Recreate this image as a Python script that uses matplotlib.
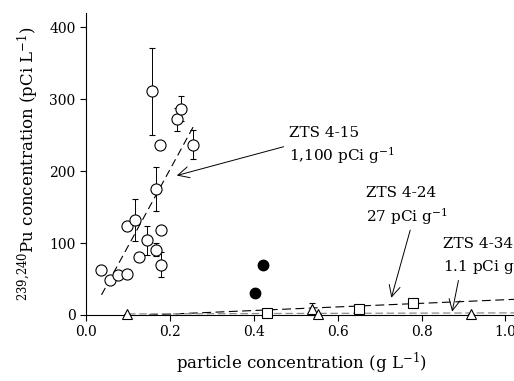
import matplotlib
matplotlib.use("Agg")
import matplotlib.pyplot as plt
import numpy as np

plt.rcParams["font.family"] = ["DejaVu Serif"]
plt.rcParams["mathtext.fontset"] = "dejavuserif"

# ZTS 4-15 (open circles) with error bars
zts415_x = [0.036, 0.057, 0.077, 0.097, 0.097, 0.117, 0.126, 0.146, 0.166, 0.179,
            0.179, 0.166, 0.158, 0.177, 0.216, 0.227, 0.256]
zts415_y = [63, 48, 56, 57, 124, 132, 80, 104, 91, 118, 70, 175, 311, 236, 272, 287, 237]
zts415_err = [4, 0, 4, 0, 4, 29, 4, 20, 9, 0, 17, 31, 61, 0, 16, 17, 20]
fit415_x = [0.037, 0.256]
fit415_y = [28, 262]

# ZTS 4-24 (open squares)
zts424_x = [0.432, 0.652, 0.779]
zts424_y = [3, 8, 16]
fit424_x = [0.15, 1.03]
fit424_y = [0, 22]

# ZTS 4-34 (open triangles)
zts434_x = [0.097, 0.540, 0.552, 0.918]
zts434_y = [2, 8, 1, 1]
zts434_err = [0, 8, 0, 0]
fit434_x = [0.1, 1.03]
fit434_y = [1.5, 3]

# filled circles
filled_x = [0.404, 0.423]
filled_y = [30, 70]

fig = plt.figure(figsize=(5.14, 3.81), dpi=100)
ax = fig.add_axes([86 / 514, 66 / 381, 432 / 514, 302 / 381])

ax.plot(fit415_x, fit415_y, color="black", lw=0.8, dashes=(7, 4))
ax.plot(fit424_x, fit424_y, color="black", lw=0.8, dashes=(8, 4))
ax.plot(fit434_x, fit434_y, color="0.55", lw=0.9, dashes=(6, 3))

ax.errorbar(zts415_x, zts415_y, yerr=zts415_err, fmt="o", ms=8, mfc="white",
            mec="black", mew=0.8, ecolor="black", elinewidth=0.7, capsize=2.5,
            capthick=0.7, zorder=3)
ax.plot(zts424_x, zts424_y, "s", ms=6.5, mfc="white", mec="black", mew=0.8,
        zorder=3, clip_on=False)
ax.errorbar(zts434_x, zts434_y, yerr=zts434_err, fmt="^", ms=7.5, mfc="white",
            mec="black", mew=0.8, ecolor="black", elinewidth=0.7, capsize=2.5,
            capthick=0.7, zorder=3, clip_on=False)
ax.plot(filled_x, filled_y, "o", ms=7.5, color="black", zorder=3)

# labels + arrows
ax.text(0.484, 235, "ZTS 4-15\n1,100 pCi g$^{-1}$", fontsize=11, ha="left",
        va="center", linespacing=1.35)
ax.text(0.668, 151, "ZTS 4-24\n27 pCi g$^{-1}$", fontsize=11, ha="left",
        va="center", linespacing=1.35)
ax.text(0.851, 81, "ZTS 4-34\n1.1 pCi g$^{-1}$", fontsize=11, ha="left",
        va="center", linespacing=1.35, clip_on=False)

arrow = dict(arrowstyle="->", lw=0.7, color="black", mutation_scale=20,
             shrinkA=0, shrinkB=0)
ax.annotate("", xy=(0.2165, 194), xytext=(0.471, 234), arrowprops=arrow)
ax.annotate("", xy=(0.728, 24), xytext=(0.773, 118), arrowprops=arrow)
ax.annotate("", xy=(0.873, 4.6), xytext=(0.888, 48), arrowprops=arrow)

ax.set_xlim(0, 1.03)
ax.set_ylim(0, 420)
ax.set_xticks(np.arange(0, 1.01, 0.2))
ax.set_xticklabels(["0.0", "0.2", "0.4", "0.6", "0.8", "1.0"])
ax.set_yticks([0, 100, 200, 300, 400])
ax.tick_params(labelsize=10, direction="out", length=4, width=0.8)
for s in ("top", "right"):
    ax.spines[s].set_visible(False)
ax.set_xlabel("particle concentration (g L$^{-1}$)", fontsize=12, labelpad=8)
ax.set_ylabel("$^{239{,}240}$Pu concentration (pCi L$^{-1}$)", fontsize=12,
              labelpad=6)

fig.savefig("out.png", dpi=100)
